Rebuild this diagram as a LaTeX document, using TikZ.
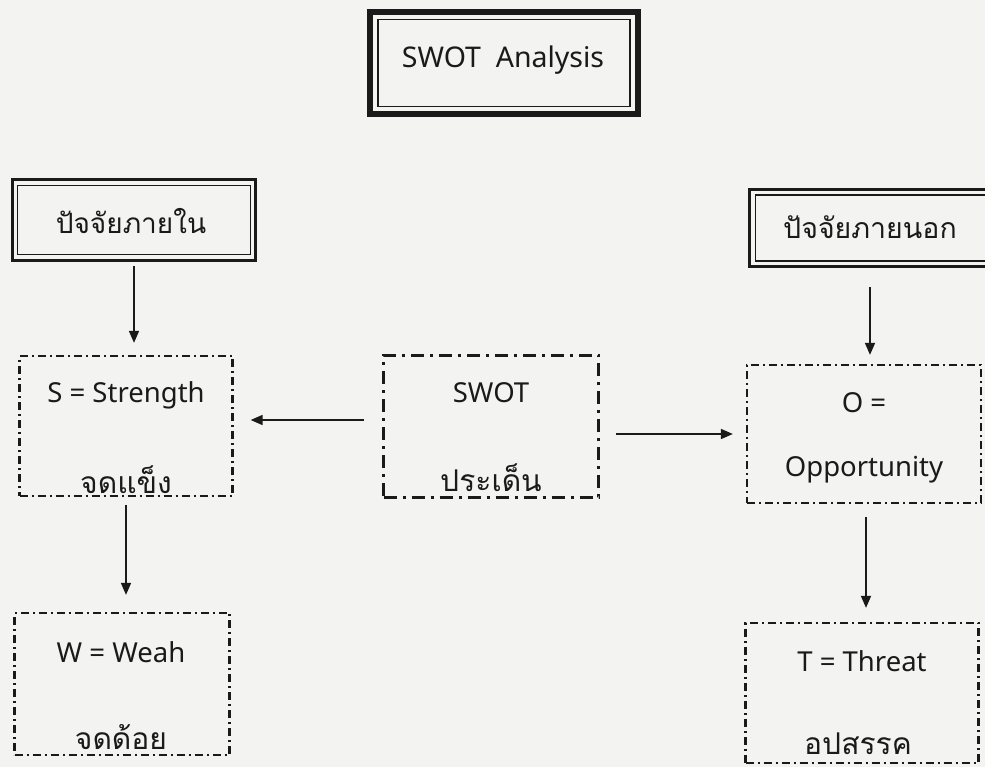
\documentclass[tikz,border=0pt]{standalone}
\usepackage{fontspec}
\setmainfont{Noto Sans}
\newfontfamily\thaifont[Script=Thai]{Loma}
\usetikzlibrary{arrows.meta}

\definecolor{paper}{HTML}{F3F3F1}
\definecolor{ink}{HTML}{1A1A1A}

\begin{document}
\begin{tikzpicture}[x=1pt,y=-1pt,->,>={Triangle[length=12pt,width=10pt]},line width=1.7pt,draw=ink,
  dash box/.style={draw=ink,line width=2.3pt,dash pattern=on 8pt off 4pt on 2pt off 4pt,inner sep=0pt},
  swot box/.style={draw=ink,line width=3pt,dash pattern=on 13pt off 6pt on 3pt off 6pt,inner sep=0pt},
  head box/.style={draw=ink,line width=3pt,inner sep=0pt},
  latin/.style={font=\fontsize{27.5}{30}\selectfont,text=ink},
  thai/.style={font=\thaifont\fontsize{30}{32}\selectfont,text=ink}]

  % page
  \fill[paper] (0,0) rectangle (985,767);
  \useasboundingbox (0,0) rectangle (985,767);

  % title
  \node[head box,line width=6pt,minimum width=268pt,minimum height=102pt] (title) at (504,63) {};
  \node[head box,line width=1.6pt,minimum width=252pt,minimum height=87pt] (titlein) at (504,63) {};
  \node[latin,font=\fontsize{28.5}{30}\selectfont] (titletext) at (503,60) {SWOT\ \ Analysis};

  % internal / external headers
  \node[head box,minimum width=243pt,minimum height=81pt] (inner) at (134,220) {};
  \node[head box,line width=1.6pt,minimum width=233pt,minimum height=69pt] (innerin) at (134,220) {};
  \node[thai,font=\thaifont\fontsize{28}{30}\selectfont] (innertext) at (131,221) {ปัจจัยภายใน};

  \node[head box,minimum width=243pt,minimum height=77pt] (outer) at (871,228) {};
  \node[head box,line width=1.6pt,minimum width=231pt,minimum height=66pt] (outerin) at (871,228) {};
  \node[thai,font=\thaifont\fontsize{28.5}{30}\selectfont] (outertext) at (870,227) {ปัจจัยภายนอก};

  % boxes
  \node[dash box,minimum width=213pt,minimum height=140pt] (s) at (126,426) {};
  \node[latin] (stext) at (126,395) {S = Strength};
  \node[thai] (sthai) at (126,480) {จดแข็ง};

  \node[swot box,minimum width=215pt,minimum height=142pt] (swot) at (491,426) {};
  \node[latin] (swottext) at (491,393) {SWOT};
  \node[thai] (swotthai) at (491,478) {ประเด็น};

  \node[dash box,minimum width=234pt,minimum height=138pt] (o) at (864,434) {};
  \node[latin] (otext) at (864,403) {O =};
  \node[latin] (otext2) at (864,470) {Opportunity};

  \node[dash box,minimum width=215pt,minimum height=142pt] (w) at (122,684) {};
  \node[latin] (wtext) at (121,652) {W = Weah};
  \node[thai] (wthai) at (121,737) {จดด้อย};

  \node[dash box,minimum width=233pt,minimum height=140pt] (t) at (862,693) {};
  \node[latin] (ttext) at (862,661) {T = Threat};
  \node[thai] (tthai) at (858,744) {อปสรรค};

  % arrows
  \draw[shorten <=4pt,shorten >=12pt] (inner.south) -- (inner.south |- s.north);
  \draw[shorten <=8pt,shorten >=17pt] (s.south) -- (s.south |- w.north);
  \draw[shorten <=18pt,shorten >=17pt] ([yshift=6pt]swot.west) -- ([yshift=6pt]swot.west -| s.east);
  \draw[shorten <=16pt,shorten >=13pt] (o.west -| swot.east) -- (o.west);
  \draw[shorten <=19pt,shorten >=9pt] ([xshift=-1pt]outer.south) -- ([xshift=-1pt]outer.south |- o.north);
  \draw[shorten <=13pt,shorten >=14pt] ([xshift=2pt]o.south) -- ([xshift=2pt]o.south |- t.north);
\end{tikzpicture}
\end{document}
